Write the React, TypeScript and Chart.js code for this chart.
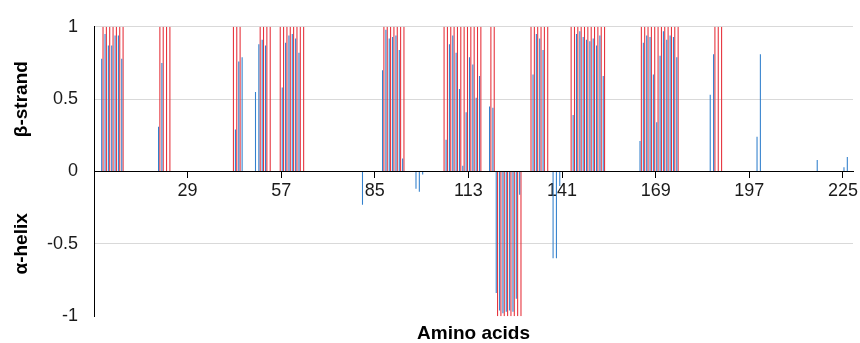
import React, { useEffect, useRef } from "react";
import { Chart, registerables } from "chart.js";

Chart.register(...registerables);

// Category axis: amino acid positions 1..227
const aminoAcids: string[] = Array.from({ length: 227 }, (_, i) => String(i + 1));
const tickLabels = ["29", "57", "85", "113", "141", "169", "197", "225"];
const yTicks = [1, 0.5, 0, -0.5, -1];

// Blue bars: propensity scores (positive = beta-strand, negative = alpha-helix)
const propensityResidues = [
  3, 4, 5, 6, 7, 8, 9,
  20, 21,
  43, 44, 45,
  49, 50, 51, 52,
  57, 58, 59, 60, 61, 62,
  81,
  87, 88, 89, 90, 91, 92, 93,
  97, 98, 99,
  106, 107, 108, 109, 110, 111, 112, 113, 114, 115, 116,
  119, 120,
  121, 122, 123, 124, 125, 126, 127, 128,
  132, 133, 134, 135,
  138, 139, 140,
  144, 145, 146, 147, 148, 149, 150, 151, 152, 153,
  164, 165, 166, 167, 168, 169, 170, 171, 172, 173, 174, 175,
  185, 186,
  199, 200,
  217,
  225, 226,
];
const propensityValues = [
  0.78, 0.95, 0.87, 0.87, 0.94, 0.94, 0.78,
  0.31, 0.75,
  0.29, 0.76, 0.79,
  0.55, 0.88, 0.91, 0.87,
  0.58, 0.89, 0.94, 0.95, 0.92, 0.82,
  -0.23,
  0.7, 0.98, 0.92, 0.93, 0.94, 0.84, 0.09,
  -0.12, -0.14, -0.02,
  0.22, 0.88, 0.94, 0.82, 0.57, 0.04, 0.41, 0.79, 0.74, 0.51, 0.66,
  0.45, 0.44,
  -0.84, -0.96, -0.98, -0.97, -0.96, -0.97, -0.88, -0.16,
  0.67, 0.95, 0.92, 0.84,
  -0.6, -0.6, -0.1,
  0.39, 0.95, 0.97, 0.93, 0.91, 0.9, 0.92, 0.87, 0.94, 0.66,
  0.21, 0.89, 0.94, 0.93, 0.67, 0.34, 0.8, 0.97, 0.91, 0.94, 0.93, 0.79,
  0.53, 0.81,
  0.24, 0.81,
  0.08,
  0.03, 0.1,
];

// Red bars: predicted secondary structure
const strandPredicted = [
  3, 4, 5, 6, 7, 8, 9,
  20, 21, 22, 23,
  42, 43, 44,
  50, 51, 52, 53,
  56, 57, 58, 59, 60, 61, 62, 63,
  87, 88, 89, 90, 91, 92, 93,
  105, 106, 107, 108, 109, 110, 111, 112, 113, 114, 115, 116,
  119, 120,
  131, 132, 133, 134, 135, 136,
  143, 144, 145, 146, 147, 148, 149, 150, 151, 152, 153,
  164, 165, 166, 167, 168, 169, 170, 171, 172, 173, 174, 175,
  186, 187, 188,
];
const helixPredicted = [121, 122, 123, 124, 125, 126, 127, 128];

const strandTitle = "β-strand";
const helixTitle = "α-helix";
const xTitle = "Amino acids";

const FONT = '"Liberation Sans", Arial, sans-serif';

export default function App() {
  const canvasRef = useRef<HTMLCanvasElement | null>(null);

  useEffect(() => {
    const canvas = canvasRef.current;
    if (!canvas) return;

    const blueData: (number | null)[] = aminoAcids.map(() => null);
    propensityResidues.forEach((r, i) => {
      blueData[r - 1] = propensityValues[i];
    });
    const redData: (number | null)[] = aminoAcids.map(() => null);
    strandPredicted.forEach((r) => {
      redData[r - 1] = 1;
    });
    helixPredicted.forEach((r) => {
      redData[r - 1] = -1;
    });

    const titlePlugin = {
      id: "axisTitles",
      afterDraw(chart: any) {
        const { ctx, chartArea, scales } = chart;
        const y = scales.y;
        ctx.save();
        ctx.font = `bold 19px ${FONT}`;
        ctx.fillStyle = "#000";
        ctx.textAlign = "center";
        ctx.textBaseline = "middle";
        const items: [string, number][] = [
          [strandTitle, 0.5],
          [helixTitle, -0.5],
        ];
        items.forEach(([t, v]) => {
          ctx.save();
          ctx.translate(22, y.getPixelForValue(v));
          ctx.rotate(-Math.PI / 2);
          ctx.fillText(t, 0, 0);
          ctx.restore();
        });
        ctx.fillText(xTitle, (chartArea.left + chartArea.right) / 2, chartArea.bottom + 18);
        ctx.restore();
      },
    };

    const chart = new Chart(canvas, {
      type: "bar",
      data: {
        labels: aminoAcids,
        datasets: [
          {
            label: "score",
            data: blueData,
            backgroundColor: "rgb(50,128,205)",
            borderWidth: 0,
            categoryPercentage: 0.8,
            barPercentage: 0.8,
          },
          {
            label: "predicted",
            data: redData,
            backgroundColor: "rgb(230,48,58)",
            borderWidth: 0,
            categoryPercentage: 0.8,
            barPercentage: 0.8,
          },
        ],
      },
      options: {
        responsive: true,
        maintainAspectRatio: false,
        animation: false,
        layout: { padding: { left: 0, right: 7, top: 21.5, bottom: 24.5 } },
        plugins: {
          legend: { display: false },
          tooltip: { enabled: false },
          title: { display: false },
        },
        scales: {
          x: {
            type: "category",
            position: { y: 0 } as any,
            offset: true,
            border: { display: true, color: "#000", width: 1 },
            grid: {
              display: true,
              offset: true,
              drawOnChartArea: false,
              drawTicks: true,
              tickLength: 6,
              color: (ctx: any) =>
                tickLabels.includes(aminoAcids[ctx.index]) ? "#000" : "rgba(0,0,0,0)",
            },
            ticks: {
              autoSkip: false,
              maxRotation: 0,
              minRotation: 0,
              padding: 3,
              labelOffset: -1.7,
              color: "#1a1a1a",
              font: { family: FONT, size: 18 },
              callback: (_v: any, i: number) =>
                tickLabels.includes(aminoAcids[i]) ? aminoAcids[i] : "",
            },
          },
          y: {
            min: -1,
            max: 1,
            afterFit: (scale: any) => {
              scale.width = 94;
            },
            afterBuildTicks: (scale: any) => {
              scale.ticks = yTicks.map((v) => ({ value: v }));
            },
            border: { display: true, color: "#000", width: 1 },
            grid: {
              drawTicks: false,
              color: (ctx: any) =>
                ctx.tick && ctx.tick.value === -1 ? "rgba(0,0,0,0)" : "#d9d9d9",
            },
            ticks: {
              padding: 16,
              color: "#1a1a1a",
              font: { family: FONT, size: 18 },
              callback: (v: any) => String(v),
            },
          },
        },
      },
      plugins: [titlePlugin],
    });

    return () => chart.destroy();
  }, []);

  return (
    <div style={{ position: "absolute", left: 0, top: 0, width: 860, height: 343 }}>
      <canvas ref={canvasRef} />
    </div>
  );
}
